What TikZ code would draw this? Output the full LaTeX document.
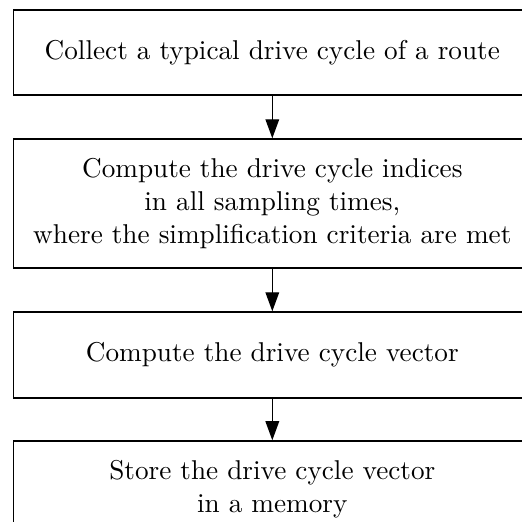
\documentclass[tikz,border=0pt]{standalone}
\usetikzlibrary{arrows.meta}
\begin{document}
\begin{tikzpicture}[x=0.3675pt,y=-0.3675pt,
  box/.style={draw, line width=0.5pt, minimum width=190.4pt, align=center, inner sep=0pt,
    font=\fontsize{10}{12.1}\selectfont},
  arr/.style={-{Triangle[length=7pt,width=5pt]}, line width=0.5pt}]
\useasboundingbox (0,0) rectangle (521,522);
\node[box, minimum height=31.2pt] (b1) at (272.3,52.5) {Collect a typical drive cycle of a route};
\node[box, minimum height=47.4pt] (b2) at (272.3,203.5) {Compute the drive cycle indices\\ in all sampling times,\\ where the simplification criteria are met};
\node[box, minimum height=31.6pt] (b3) at (272.3,355) {Compute the drive cycle vector};
\node[box, minimum height=35.3pt] (b4) at (272.3,489) {Store the drive cycle vector\\ in a memory};
\draw[arr] (b1) -- (b2);
\draw[arr] (b2) -- (b3);
\draw[arr] (b3) -- (b4);
\end{tikzpicture}
\end{document}
